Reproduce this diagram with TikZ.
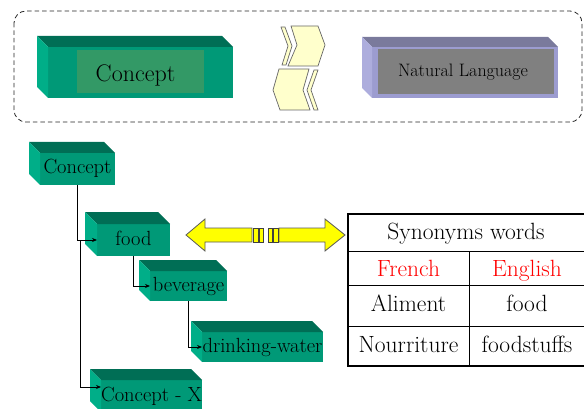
\documentclass[tikz,border=0pt]{standalone}
\usepackage{fontspec}
\usetikzlibrary{arrows.meta}
\definecolor{gfront}{HTML}{009977}
\definecolor{gtop}{HTML}{006E55}
\definecolor{gside}{HTML}{00AE88}
\definecolor{ginner}{HTML}{339966}
\definecolor{pfront}{HTML}{9C9CD0}
\definecolor{ptop}{HTML}{7A7A9C}
\definecolor{pside}{HTML}{ADADDD}
\definecolor{pinner}{HTML}{808080}
\definecolor{chev}{HTML}{FFFFCC}
\definecolor{yel}{HTML}{FFFF00}
\newcommand\boxsides[4]{%
  \fill[#3] (#1.north west) -- ([shift={(-#2,-#2)}]#1.north west) -- ([shift={(-#2,-#2)}]#1.north east) -- (#1.north east) -- cycle;
  \fill[#4] (#1.north west) -- ([shift={(-#2,-#2)}]#1.north west) -- ([shift={(-#2,-#2)}]#1.south west) -- (#1.south west) -- cycle;}
\begin{document}
\begin{tikzpicture}[x=1pt,y=-1pt,
  face/.style={fill=#1, inner sep=0pt, outer sep=0pt, anchor=north west},
  gbox/.style={face=gfront, text height=14pt, text depth=4pt, font=\rmfamily\fontsize{20.5}{24}\selectfont},
  conn/.style={line width=0.8pt, -{Stealth[length=5pt,width=4pt]}},
  chevron/.style={fill=chev, draw=black!60, line width=0.7pt, line join=miter},
  yarrow/.style={fill=yel, draw=black!65, line width=0.8pt},
  yblock/.style={fill=yel, draw=black!75, line width=1pt},
  tabtext/.style={anchor=base, font=\rmfamily\fontsize{23.5}{27}\selectfont},
  ]
\useasboundingbox (0,0) rectangle (584,409);

% dashed frame
\draw[black!85, line width=0.8pt, dash pattern=on 4.5pt off 3pt, rounded corners=12pt] (14,11) rectangle (582,122);

% big Concept box
\node[face=gfront, minimum width=185pt, minimum height=51pt] (bigc) at (48,47) {};
\boxsides{bigc}{11}{gtop}{gside}
\node[face=ginner, minimum width=127pt, minimum height=43pt] (bigci) at (77,50) {};
\node[anchor=base, inner sep=0pt, font=\rmfamily\fontsize{24}{28}\selectfont] (bigct) at (135.5,82) {Concept};

% Natural Language box
\node[face=pfront, minimum width=186pt, minimum height=51pt] (nl) at (372,47) {};
\boxsides{nl}{10}{ptop}{pside}
\node[face=pinner, minimum width=176pt, minimum height=45pt] (nli) at (378,49) {};
\node[anchor=base, inner sep=0pt, font=\rmfamily\fontsize{18}{22}\selectfont] (nlt) at (463,77) {Natural Language};

% chevrons
\draw[chevron] (281,27) -- (285,27) -- (292,46) -- (286,65) -- (282,65) -- (288,46) -- cycle;
\draw[chevron] (291,26) -- (318,26) -- (325,45) -- (318,66) -- (288,66) -- (297,45) -- cycle;
\draw[chevron] (279,69) -- (309,69) -- (303,90) -- (310,110) -- (280,110) -- (273,90) -- cycle;
\draw[chevron] (314,70) -- (318,70) -- (311,90) -- (318,110) -- (314,110) -- (307,90) -- cycle;

% tree boxes
\node[gbox, minimum width=75pt, minimum height=32pt] (cpt) at (40,153) {Concept};
\boxsides{cpt}{11}{gtop}{gside}
\node[gbox, minimum width=73pt, minimum height=32pt] (food) at (97,224) {food};
\boxsides{food}{12}{gtop}{gside}
\node[gbox, minimum width=77pt, minimum height=30pt] (bev) at (150,271) {beverage};
\boxsides{bev}{11}{gtop}{gside}
\node[gbox, minimum width=121pt, minimum height=30pt] (dw) at (202,332) {drinking-water};
\boxsides{dw}{11}{gtop}{gside}
\node[gbox, minimum width=101pt, minimum height=32pt] (cx) at (101,380) {Concept - X};
\boxsides{cx}{11}{gtop}{gside}

% connectors
\coordinate (j1) at (80,240);
\draw[conn] (cpt.south) |- (food.west);
\draw[conn] (j1) |- ([yshift=9pt]cx.west);
\draw[conn] (food.south) |- (bev.west);
\draw[conn] (bev.south) |- (dw.west);

% yellow double arrow
\draw[yarrow] (186,235) -- (205,219) -- (205,228) -- (252,228) -- (252,242) -- (205,242) -- (205,251) -- cycle;
\draw[yarrow] (279,228) -- (325,228) -- (325,219) -- (345,235) -- (325,251) -- (325,242) -- (279,242) -- cycle;
\draw[yblock] (253,228) rectangle (258,242);
\draw[yblock] (259.5,228) rectangle (263.5,242);
\draw[yblock] (268,228) rectangle (272,242);
\draw[yblock] (273.5,228) rectangle (278,242);

% table
\draw[line width=1.2pt] (348,214) -- (590,214);
\draw[line width=1pt] (348,251) -- (590,251);
\draw[line width=1pt] (348,285) -- (590,285);
\draw[line width=1pt] (348,326) -- (590,326);
\draw[line width=1pt] (469,251) -- (469,366);
\draw[line width=2pt] (348,213) -- (348,366) -- (590,366);
\node[tabtext] (syn) at (466,239) {Synonyms words};
\node[tabtext, text=red] (fr) at (408.5,276) {French};
\node[tabtext, text=red] (en) at (527,276) {English};
\node[tabtext] (al) at (408.5,311) {Aliment};
\node[tabtext] (fo) at (527,311) {food};
\node[tabtext] (no) at (408.5,352) {Nourriture};
\node[tabtext] (fs) at (527,352) {foodstuffs};
\end{tikzpicture}
\end{document}
